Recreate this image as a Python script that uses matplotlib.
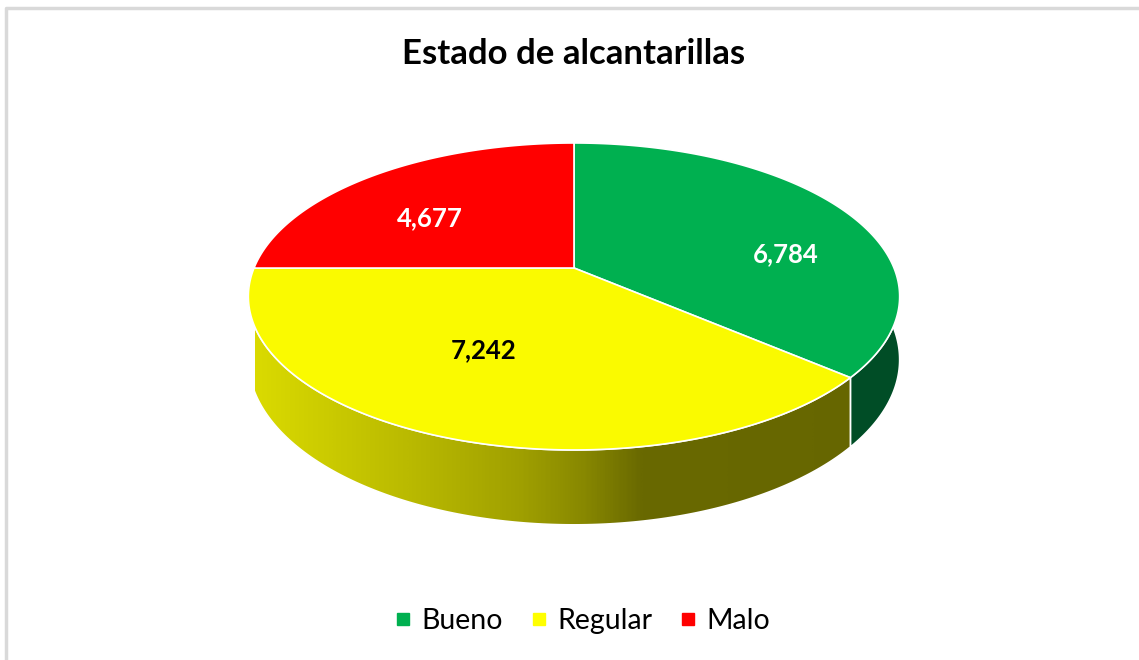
import numpy as np
import matplotlib
matplotlib.use("Agg")
import matplotlib.pyplot as plt
from matplotlib.patches import Polygon
from matplotlib.lines import Line2D
from matplotlib.colors import LinearSegmentedColormap

# datos
categorias = ['Bueno', 'Regular', 'Malo']
valores = [6784, 7242, 4677]
etiquetas = ['6,784', '7,242', '4,677']

colores_top = ['#00B050', '#FAFA00', '#FF0000']
colores_txt = ['white', 'black', 'white']
colores_legend = ['#00B050', '#FFFF00', '#FF0000']

# geometría del pastel 3D (pixeles)
cx, cy = 574, 268       # centro del pastel
rx, ry = 320, 148.2
k = 0.1855              # perspectiva
alto = 61               # grosor
label_xy = [(786, 254), (484, 350), (430, 218)]


def proyectar(t, z=0.0):
    X, Y = np.cos(t), np.sin(t)
    d = 1 + k * Y
    x = cx + rx * X / d
    y = cy - ry * Y / d + z / d
    return x, y


fig = plt.figure(figsize=(11.39, 6.6), dpi=100)
ax = fig.add_axes([0, 0, 1, 1])
ax.set_xlim(0, 1139)
ax.set_ylim(660, 0)
ax.axis('off')

# borde del gráfico
ax.plot([6, 6, 1139], [660, 8, 8], color='#d9d9d9', lw=2.5, zorder=1)

total = sum(valores)
angulos = [90.0]
for v in valores:
    angulos.append(angulos[-1] - 360.0 * v / total)

# lados (solo la mitad frontal)
grad = LinearSegmentedColormap.from_list('amarillo', [
    (0.0, '#DADA00'), (0.25, '#B8B800'), (0.41, '#A0A000'),
    (0.51, '#888800'), (0.60, '#696900'), (1.0, '#666600')])
for i in range(len(valores)):
    a0, a1 = angulos[i], angulos[i + 1]
    lo, hi = max(min(a0, a1), -180), min(max(a0, a1), 0)
    if lo >= hi:
        continue
    t = np.radians(np.linspace(hi, lo, 200))
    xt, yt = proyectar(t)
    xb, yb = proyectar(t, alto)
    pts = np.column_stack([np.r_[xt, xb[::-1]], np.r_[yt, yb[::-1]]])
    if categorias[i] == 'Regular':
        poly = Polygon(pts, closed=True, facecolor='none', edgecolor='white', lw=1.2, zorder=3)
        ax.add_patch(poly)
        img = ax.imshow(np.linspace(0, 1, 400)[None, :], cmap=grad, aspect='auto',
                        extent=[255, 900, 540, 280], zorder=2)
        img.set_clip_path(poly)
    else:
        ax.add_patch(Polygon(pts, closed=True, facecolor='#004D26', edgecolor='white', lw=1.2, zorder=2))

# caras superiores
for i in range(len(valores)):
    t = np.radians(np.linspace(angulos[i], angulos[i + 1], 300))
    xt, yt = proyectar(t)
    pts = np.column_stack([np.r_[cx, xt], np.r_[cy, yt]])
    ax.add_patch(Polygon(pts, closed=True, facecolor=colores_top[i], edgecolor='white', lw=1.2, zorder=4))

# etiquetas
for (x, y), txt, c in zip(label_xy, etiquetas, colores_txt):
    ax.text(x, y, txt, ha='center', va='center', fontsize=18.5, fontweight='bold',
            color=c, family='Lato', zorder=6)

ax.text(574, 54, 'Estado de alcantarillas', ha='center', va='center', fontsize=25,
        fontweight='bold', family='Lato', color='black')

handles = [Line2D([], [], marker='s', ls='none', color=c, markersize=9) for c in colores_legend]
leg = ax.legend(handles, categorias, loc='center', bbox_to_anchor=(580 / 1139, 1 - 621 / 660),
                ncol=3, frameon=False, handlelength=0.9, handletextpad=0.2, columnspacing=0.8,
                prop={'family': 'Lato', 'size': 20.5})

fig.savefig('out.png', dpi=100)
